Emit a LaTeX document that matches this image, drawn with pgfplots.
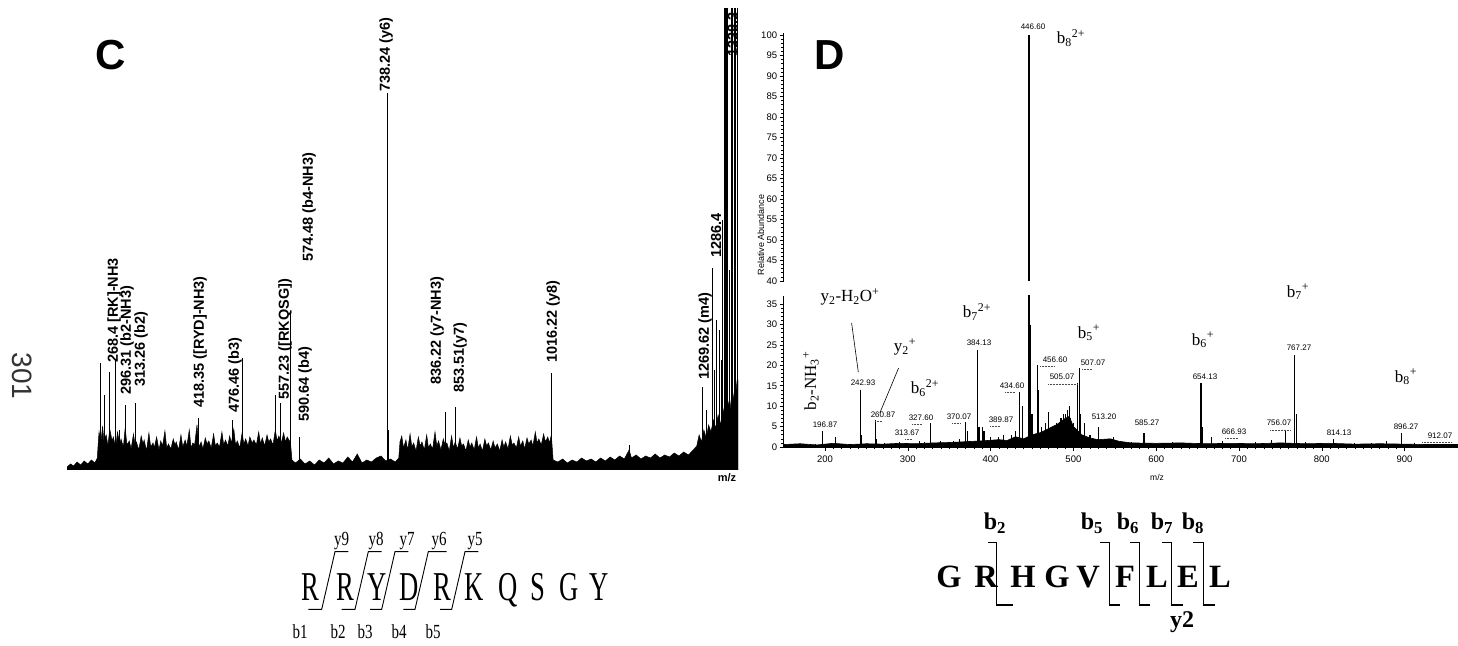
\documentclass[border=0pt]{standalone}
\usepackage{fontspec}
\setmainfont{Liberation Serif}
\setsansfont{Liberation Sans}
\usepackage{pgfplots}
\pgfplotsset{compat=1.18}

\newcommand{\fs}[1]{\fontsize{#1}{#1}\selectfont}

\begin{document}
\begin{tikzpicture}[x=1pt,y=1pt]
\useasboundingbox (0,0) rectangle (1458,645);

% ---------------- panel C ----------------
\begin{axis}[at={(67pt,175pt)}, anchor=south west, scale only axis,
  width=671pt, height=470pt,
  xmin=199, xmax=1329.5, ymin=0, ymax=470, hide axis]
% noise band
\addplot[fill=black, draw=black, line width=0.5pt, mark=none] coordinates {
(199,0)(199,3)(205,6)(210,4)(216,8)(222,5)(228,9)(234,6)(240,10)(246,7)(250,12)(252,30)
(253,38)(256,27)(259,44)(261,30)(265,35)(268,24)(271,41)(275,29)(277,33)(281,22)(284,38)
(288,26)(290,31)(294,23)(297,42)(300,25)(304,29)(307,21)(311,36)(314,24)(316,28)(320,20)
(324,34)(327,26)(329,30)(333,19)(337,37)(340,23)(344,27)(346,22)(350,33)(354,20)(357,29)
(360,24)(364,39)(367,22)(370,26)(374,21)(378,31)(381,25)(383,28)(387,20)(391,35)(394,23)
(398,30)(401,24)(405,40)(408,22)(411,27)(414,25)(418,45)(421,23)(425,28)(428,21)(432,32)
(435,26)(438,29)(442,22)(446,36)(449,24)(452,27)(456,23)(460,38)(463,25)(466,30)(470,24)
(473,34)(476,27)(480,41)(483,25)(486,29)(490,22)(494,37)(497,26)(500,31)(504,24)(507,33)
(511,27)(514,30)(518,25)(522,38)(525,26)(528,32)(532,24)(536,35)(539,28)(542,31)(546,25)
(550,40)(553,29)(556,34)(560,27)(564,37)(567,28)(570,33)(574,29)(576,24)(578,10)
(584,7)(592,11)(600,6)(608,9)(616,5)(624,10)(632,7)(640,12)(648,6)(656,9)(664,7)(672,13)
(680,8)(688,16)(696,7)(704,10)(712,8)(720,12)(728,14)(736,9)(744,11)(752,8)(758,12)
(760,28)(763,34)(766,22)(770,30)(773,20)(777,36)(780,23)(783,27)(787,19)(791,33)(794,24)
(797,28)(801,20)(805,35)(808,22)(811,26)(815,21)(819,38)(822,24)(825,29)(829,20)(833,31)
(836,25)(839,27)(843,19)(847,34)(850,22)(853,28)(857,21)(861,32)(864,24)(867,26)(871,19)
(875,30)(878,23)(881,27)(885,20)(889,33)(892,22)(895,26)(899,19)(903,31)(906,24)(909,27)
(913,20)(917,29)(920,22)(924,26)(928,19)(932,30)(935,23)(938,28)(942,21)(946,34)(949,25)
(952,27)(956,22)(960,33)(963,24)(967,29)(970,21)(974,32)(977,26)(981,30)(984,24)(988,38)
(991,27)(994,31)(998,25)(1002,36)(1005,28)(1009,33)(1012,27)(1015,35)(1018,10)
(1026,8)(1034,11)(1042,7)(1050,10)(1058,8)(1066,12)(1074,9)(1082,11)(1090,8)(1098,12)
(1106,9)(1114,13)(1122,10)(1130,14)(1138,11)(1146,20)(1150,12)(1158,15)(1166,11)(1174,14)
(1182,12)(1190,16)(1198,12)(1206,15)(1214,13)(1222,17)(1230,14)(1238,18)(1246,15)(1254,20)
(1260,24)(1264,35)(1268,28)(1272,40)(1276,32)(1280,45)(1284,38)(1288,50)(1292,42)(1296,55)
(1300,45)(1304,62)(1308,50)(1312,70)(1316,60)(1320,80)(1324,65)(1328,90)(1329.5,90)(1329.5,0)
} \closedcycle;
% peaks
\addplot[ycomb, black, line width=1pt, mark=none] coordinates {
(255,107)(262,75)(271,98)(281,110)(288,40)(298,65)(315,67)(405,32)(420,52)(460,30)
(477,50)(494,112)(551,75)(558,67)(575,158)(590,33)(738.24,377)(741,40)(836,58)(853,63)
(988,32)(1016,97)(1147,25)(1269,83)(1276,60)(1286,202)(1290,100)(1294,150)(1298,140)(1302,110)
(1304,250)(1316,200)
};
\addplot[ycomb, black, line width=1.8pt, mark=none] coordinates {
(1308,462)(1311,462)(1320,462)(1325,462)(1328.5,462)
};
\end{axis}

% ---------------- panel D, lower part ----------------
\begin{axis}[at={(783.6pt,198pt)}, anchor=south west, scale only axis,
  width=674.8pt, height=151pt,
  xmin=150, xmax=965, ymin=0, ymax=37,
  axis x line=bottom, axis y line=left, axis line style={-, line width=0.8pt},
  tick align=outside, xtick={200,300,...,900}, ytick={0,5,...,35},
  minor x tick num=9, minor y tick num=4,
  major tick length=4pt, minor tick length=2.5pt,
  tick style={black, line width=0.6pt},
  ticklabel style={font=\sffamily\fs{9.5}},
  /pgf/number format/assume math mode=true,
  xticklabel style={yshift=-1pt}, yticklabel style={xshift=1pt}]
\addplot[fill=black, draw=black, line width=0.6pt, mark=none] coordinates {
(150,0)(150,0.6)(170,0.8)(190,0.5)(210,0.9)(230,0.6)(250,0.8)(270,0.7)(290,0.9)(310,0.8)
(330,1.0)(350,1.1)(370,1.3)(390,1.5)(410,1.8)(420,1.6)(430,2.5)(440,2.0)(450,3)(460,3.5)
(470,4.5)(480,5.5)(490,7)(495,7.5)(500,5)(510,3)(520,2.2)(530,1.8)(545,2)(555,1.4)(570,1.0)
(600,0.9)(630,1.0)(660,0.8)(690,0.9)(720,0.8)(750,1.0)(780,0.8)(810,0.9)(840,0.7)(870,0.8)
(900,0.7)(930,0.6)(965,0.6)(965,0)
} \closedcycle;
\addplot[ycomb, black, line width=1.1pt, mark=none] coordinates {
(170,0.8)(180,0.6)(188,0.7)(196.87,3.8)(213,2.5)(225,0.8)(242.93,14)(244,3)(260.87,6.6)
(262,2)(272,1)(290,1.2)(300,1)(313.67,1.5)(320,1.2)(327.6,5.9)(340,1.5)(355,1.5)(362,2)
(370.07,6.2)(372,4)(384.13,23.8)(386,5)(389.87,5)(392,4)(400,2.5)(410,2.5)(416,3)(425,3)
(430,4)(434.6,13.5)(439,10)(448,30)(450,8)(456.6,20)(458,14)(462,5)(466,6)(470,8.5)(476,5)
(480,6)(485,7)(488,8)(490,8)(493,9)(495,10)(497,7)(500,6)(505.07,15.7)(507.07,19.4)(509,8)
(513.2,6)(520,3)(530,5)(540,2)(548,2.5)(555,1.5)(570,1.2)(585.27,3.4)(600,1)(620,1.2)
(640,1)(654.13,15.7)(656,5)(666.93,2.5)(680,1.5)(700,1)(720,1.2)(739,1.8)(756.07,4.2)
(767.27,22.5)(769,8)(780,1.3)(800,1)(814.13,2)(840,1)(860,1)(878,1.5)(896.27,3.4)
(912.07,1)(930,0.8)(950,0.8)
};
\addplot[ycomb, black, line width=2pt, mark=none] coordinates {(446.6,100)};
\end{axis}

% ---------------- panel D, upper part ----------------
\begin{axis}[at={(783.6pt,364pt)}, anchor=south west, scale only axis,
  width=674.8pt, height=248pt,
  xmin=150, xmax=965, ymin=40, ymax=100.5,
  axis x line=none, axis y line=left, axis line style={-, line width=0.8pt},
  tick align=outside, ytick={40,45,...,100}, minor y tick num=4,
  major tick length=4pt, minor tick length=2.5pt,
  tick style={black, line width=0.6pt},
  ticklabel style={font=\sffamily\fs{9.5}},
  /pgf/number format/assume math mode=true,
  yticklabel style={xshift=1pt}]
\addplot[ycomb, black, line width=2pt, mark=none] coordinates {(446.6,100)};
\end{axis}

% ---------------- annotations (pixel coordinates, y downwards) ----------------
\begin{scope}[shift={(0,645)}, yscale=-1]
% panel letters
\node[font=\sffamily\bfseries\fs{42}] at (111,55) {C};
\node[font=\sffamily\bfseries\fs{42}] at (830,55) {D};
\node[rotate=-90, font=\sffamily\fs{28}, text=black!80] at (22,376) {301};

% panel C peak labels
\begin{scope}[every node/.style={rotate=90, anchor=west, inner sep=0pt, font=\sffamily\bfseries\fs{14.5}}]
\node at (114,363) {268.4 [RK]-NH3};
\node at (127,395) {296.31 (b2-NH3)};
\node at (141,387) {313.26 (b2)};
\node at (200,408) {418.35 ([RYD]-NH3)};
\node at (235,413) {476.46 (b3)};
\node at (285,400) {557.23 ([RKQSG])};
\node at (309,262) {574.48 (b4-NH3)};
\node at (305,422) {590.64 (b4)};
\node at (386,92) {738.24 (y6)};
\node at (437,385) {836.22 (y7-NH3)};
\node at (460,393) {853.51(y7)};
\node at (553,363) {1016.22 (y8)};
\node at (705,380) {1269.62 (m4)};
\node at (716,258) {1286.4};
\node at (733,57) {1338.3};
\end{scope}
\node[font=\sffamily\bfseries\fs{11}] at (727,478) {m/z};

% panel D axis titles
\node[rotate=90, font=\sffamily\fs{9}] at (761,235) {Relative Abundance};
\node[font=\sffamily\fs{8.5}] at (1157,477) {m/z};

% panel D peak values
\begin{scope}[every node/.style={font=\sffamily\fs{8}, inner sep=0pt}]
\node at (1033,27) {446.60};
\node at (863,383) {242.93};
\node at (825,425) {196.87};
\node at (883,415) {260.87};
\node at (921,418) {327.60};
\node at (907,433) {313.67};
\node at (959,417) {370.07};
\node at (979,343) {384.13};
\node at (1001,420) {389.87};
\node at (1012,386) {434.60};
\node at (1055,360) {456.60};
\node at (1062,377) {505.07};
\node at (1093,363) {507.07};
\node at (1104,417) {513.20};
\node at (1147,423) {585.27};
\node at (1205,377) {654.13};
\node at (1234,432) {666.93};
\node at (1279,423) {756.07};
\node at (1299,348) {767.27};
\node at (1339,433) {814.13};
\node at (1406,427) {896.27};
\node at (1440,436) {912.07};
\end{scope}
\begin{scope}[densely dotted, line width=0.5pt, black!70]
\draw (1040,366) -- (1054,366);
\draw (1048,384) -- (1078,384);
\draw (1082,369) -- (1092,369);
\draw (1005,392) -- (1015,392);
\draw (1422,442) -- (1452,442);
\draw (1225,438) -- (1238,438);
\draw (1270,430) -- (1290,430);
\draw (990,426) -- (1000,426);
\draw (952,423) -- (960,423);
\draw (912,424) -- (922,424);
\draw (905,439) -- (912,439);
\draw (875,421) -- (882,421);
\end{scope}

% panel D ion labels
\begin{scope}[every node/.style={font=\fs{17}, inner sep=0pt}]
\node at (1071,38) {b\textsubscript{8}\textsuperscript{2+}};
\node at (850,297) {y\textsubscript{2}-H\textsubscript{2}O\textsuperscript{+}};
\node[rotate=90] at (811,381) {b\textsubscript{2}-NH\textsubscript{3}\textsuperscript{+}};
\node at (905,347) {y\textsubscript{2}\textsuperscript{+}};
\node at (925,388) {b\textsubscript{6}\textsuperscript{2+}};
\node at (977,312) {b\textsubscript{7}\textsuperscript{2+}};
\node at (1089,333) {b\textsubscript{5}\textsuperscript{+}};
\node at (1203,340) {b\textsubscript{6}\textsuperscript{+}};
\node at (1298,292) {b\textsubscript{7}\textsuperscript{+}};
\node at (1406,377) {b\textsubscript{8}\textsuperscript{+}};
\end{scope}
\draw[line width=0.6pt] (851.6,323) -- (858.3,372);
\draw[line width=0.6pt] (898.6,368) -- (879.8,413);

% sequence under panel C
\foreach \x/\l in {310.8/R,345/R,377.5/Y,409/D,442.5/R,474/K,508/Q,537.5/S,569/G,599/Y}
  \node[anchor=base, inner sep=0pt] at (\x,600) {\scalebox{0.65}[1]{\fs{41}\l}};
\foreach \x/\l in {341.7/y9,376/y8,407/y7,439/y6,475/y5}
  \node[anchor=base, inner sep=0pt] at (\x,546) {\scalebox{0.75}[1]{\fs{20}\l}};
\foreach \x/\l in {300/b1,338/b2,365/b3,399/b4,433/b5}
  \node[anchor=base, inner sep=0pt] at (\x,638) {\scalebox{0.75}[1]{\fs{20}\l}};
\begin{scope}[line width=0.9pt]
\draw (308.3,609.3) -- (321.7,609.3) -- (335,551.7) -- (348.3,551.7);
\draw (341.7,609.3) -- (355,609.3) -- (368.3,551.7) -- (381.7,551.7);
\draw (370,609.3) -- (381.7,609.3) -- (395,551.7) -- (408.3,551.7);
\draw (403.3,609.3) -- (415,609.3) -- (428.3,551.7) -- (446.7,551.7);
\draw (440,609.3) -- (451.7,609.3) -- (465,551.7) -- (478.3,551.7);
\end{scope}

% sequence under panel D
\foreach \x/\l in {949/G,986/R,1023/H,1057/G,1088/V,1125/F,1157/L,1188/E,1220/L}
  \node[anchor=base, inner sep=0pt] at (\x,588) {\bfseries\fs{32.5}\l};
\begin{scope}[line width=1.1pt]
\draw (988.3,542.7) -- (996.7,542.7) -- (996.7,605) -- (1013.3,605);
\draw (1100,542.7) -- (1109.3,542.7) -- (1109.3,605) -- (1120,605);
\draw (1130,542.7) -- (1139.3,542.7) -- (1139.3,605) -- (1150,605);
\draw (1161.7,542.7) -- (1171.7,542.7) -- (1171.7,605) -- (1183.3,605);
\draw (1193.3,542.7) -- (1203.3,542.7) -- (1203.3,605) -- (1215,605);
\end{scope}
\foreach \x/\n in {995/2,1092/5,1128/6,1162/7,1193/8}
  \node[anchor=base, inner sep=0pt] at (\x,530) {\bfseries\fs{24}b\textsubscript{\n}};
\node[anchor=base, inner sep=0pt] at (1182,627) {\bfseries\fs{24}y2};
\end{scope}
\end{tikzpicture}
\end{document}
